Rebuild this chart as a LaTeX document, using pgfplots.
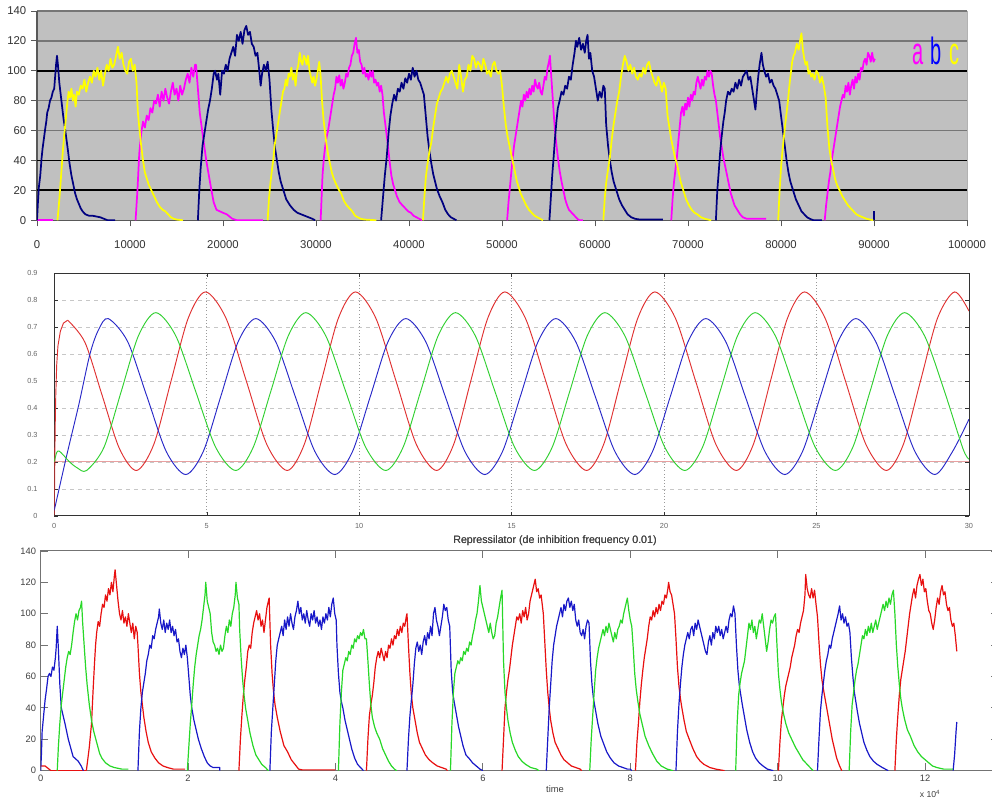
\documentclass[border=0pt]{standalone}
\usepackage{fontspec}
\setmainfont{Liberation Sans}
\usepackage{graphicx}
\usepackage{pgfplots}
\pgfplotsset{compat=1.18}

\definecolor{xlgray}{HTML}{C0C0C0}
\definecolor{xlgrid}{HTML}{767676}
\definecolor{cnavy}{HTML}{000080}
\definecolor{cmag}{HTML}{FF00FF}
\definecolor{cyel}{HTML}{FFFF00}
\definecolor{mred}{HTML}{E03030}
\definecolor{mblue}{HTML}{2828C8}
\definecolor{mgreen}{HTML}{30D030}
\definecolor{mpink}{HTML}{E8A0A0}
\definecolor{bred}{HTML}{E81010}
\definecolor{bblue}{HTML}{1818C8}
\definecolor{bgreen}{HTML}{28D828}
\definecolor{txt}{HTML}{333333}

\pgfplotsset{
  tA/.style={cmag, line width=1.3pt, line join=round},
  tB/.style={cnavy, line width=1.3pt, line join=round},
  tC/.style={cyel, line width=1.3pt, line join=round},
  bR/.style={bred, line width=0.9pt, line join=round},
  bB/.style={bblue, line width=0.9pt, line join=round},
  bG/.style={bgreen, line width=0.9pt, line join=round},
}

\begin{document}
\begin{tikzpicture}
\path[use as bounding box] (0,0) rectangle (744pt,-604.5pt);
\fill[white] (0,0) rectangle (744pt,-604.5pt);

% ---------------- top panel (Excel style) ----------------
\begin{axis}[
  at={(27.75pt,-165.2pt)}, anchor=south west,
  scale only axis, width=697.5pt, height=157pt,
  xmin=0, xmax=100, ymin=0, ymax=140,
  axis background/.style={fill=xlgray, draw=black!30},
  axis x line*=bottom, axis y line*=left,
  axis line style={-, draw=black!65, line width=0.8pt},
  xtick={0,10,...,100},
  xticklabels={0,10000,20000,30000,40000,50000,60000,70000,80000,90000,100000},
  ytick={0,20,...,140},
  tick align=outside, major tick length=4.5pt, tick style={black!65, line width=0.6pt},
  ymajorgrids, grid style={xlgrid, line width=1.1pt},
  extra y ticks={20,40,100}, extra y tick labels={},
  extra y tick style={grid style={black, line width=1.3pt}, major tick length=0pt},
  ticklabel style={font=\fontsize{8.5}{10}\selectfont, text=txt},
  xticklabel style={yshift=-7pt},
  /pgf/number format/assume math mode=true,
]
% a
\addplot[tA] coordinates {(0,0)(1.7,0)};
\addplot[tA] coordinates {(10.6,0)(10.8,20)(11.0,45)(11.2,58)(11.4,66)(11.6,62)(11.8,70)(12.0,67)(12.2,75)(12.4,72)(12.6,80)(12.8,78)(13.0,84)(13.2,76)(13.4,86)(13.6,80)(13.8,88)(14.0,82)(14.2,78)(14.4,86)(14.6,92)(14.8,84)(15.0,88)(15.2,80)(15.4,90)(15.6,84)(15.8,88)(16.0,94)(16.2,98)(16.4,92)(16.6,102)(16.8,96)(17.0,104)(17.1,104)(17.3,88)(17.5,72)(17.8,58)(18.2,40)(18.7,22)(19.0,12)(19.3,7)(20.0,5)(20.4,4)(21,1)(21.5,0)(24.3,0)};
\addplot[tA] coordinates {(30.5,0)(30.6,15)(30.7,30)(30.85,42)(31.0,50)(31.15,56)(31.3,60)(31.45,66)(31.6,72)(31.75,78)(31.9,84)(32.05,88)(32.2,96)(32.35,92)(32.5,97)(32.65,90)(32.8,94)(32.95,88)(33.1,92)(33.25,98)(33.4,96)(33.55,102)(33.7,104)(33.85,110)(34.0,112)(34.15,118)(34.3,122)(34.45,112)(34.6,114)(34.75,106)(34.9,104)(35.05,98)(35.2,102)(35.35,96)(35.5,98)(35.65,94)(35.8,100)(35.95,96)(36.1,100)(36.25,92)(36.4,94)(36.55,90)(36.7,92)(36.85,86)(37.0,90)(37.15,84)(37.3,72)(37.5,62)(37.7,52)(37.9,40)(38.1,30)(38.3,24)(38.5,20)(38.7,16)(39.0,12)(39.3,10)(39.6,8)(39.9,6)(40.2,5)(40.5,3)(40.8,2)(41.1,1)(41.4,0)};
\addplot[tA] coordinates {(50.55,0)(50.7,12)(50.85,22)(51.0,32)(51.15,42)(51.3,50)(51.45,56)(51.6,62)(51.75,68)(51.9,74)(52.05,80)(52.2,76)(52.35,84)(52.5,80)(52.65,86)(52.8,82)(52.95,88)(53.1,84)(53.25,90)(53.4,86)(53.55,94)(53.7,90)(53.85,88)(54.0,92)(54.15,86)(54.3,84)(54.45,90)(54.6,96)(54.75,94)(54.9,102)(55.05,106)(55.15,110)(55.3,96)(55.45,82)(55.6,68)(55.75,56)(55.9,48)(56.05,40)(56.2,33)(56.4,26)(56.6,20)(56.8,14)(57.0,10)(57.2,7)(57.5,5)(57.8,3)(58.1,1)(58.3,0)(58.7,0)};
\addplot[tA] coordinates {(68.2,0)(68.35,15)(68.5,26)(68.65,34)(68.8,42)(68.95,52)(69.1,62)(69.25,72)(69.4,76)(69.55,70)(69.7,78)(69.85,74)(70.0,82)(70.15,76)(70.3,84)(70.45,80)(70.6,86)(70.75,84)(70.9,92)(71.05,96)(71.2,92)(71.35,88)(71.5,94)(71.65,90)(71.8,96)(71.95,94)(72.1,100)(72.25,96)(72.4,100)(72.55,98)(72.7,90)(72.85,84)(73.0,80)(73.15,72)(73.3,64)(73.45,56)(73.6,50)(73.8,42)(74.0,36)(74.2,30)(74.4,24)(74.6,18)(74.8,14)(75.0,10)(75.3,7)(75.6,4)(75.9,2)(76.3,1)(77.0,1)(78.4,1)};
\addplot[tA] coordinates {(84.7,0)(84.85,10)(85.0,18)(85.15,26)(85.3,32)(85.45,40)(85.6,46)(85.75,52)(85.9,58)(86.05,64)(86.2,70)(86.35,76)(86.5,80)(86.65,84)(86.8,82)(86.95,90)(87.1,86)(87.25,92)(87.4,84)(87.55,90)(87.7,94)(87.85,88)(88.0,96)(88.15,92)(88.3,98)(88.45,94)(88.6,102)(88.75,100)(88.9,106)(89.05,108)(89.2,104)(89.35,112)(89.5,110)(89.65,106)(89.8,112)(89.95,106)(90.1,108)};
% b
\addplot[tB] coordinates {(0,0)(0.1,12)(0.2,22)(0.35,30)(0.5,42)(0.6,48)(0.75,55)(0.9,62)(1.0,66)(1.1,72)(1.25,75)(1.4,80)(1.55,82)(1.7,86)(1.85,88)(1.95,96)(2.05,104)(2.15,110)(2.25,104)(2.4,92)(2.55,84)(2.7,76)(2.85,68)(3.0,62)(3.15,55)(3.3,48)(3.5,38)(3.7,30)(3.9,24)(4.1,18)(4.3,14)(4.5,11)(4.7,8)(4.9,6)(5.2,4)(5.6,3)(6.0,3)(6.4,2.5)(6.8,2)(7.2,1)(7.6,0)(8.4,0)};
\addplot[tB] coordinates {(17.3,0)(17.45,20)(17.6,35)(17.8,50)(18.0,58)(18.2,66)(18.4,74)(18.6,80)(18.8,88)(19.0,98)(19.15,100)(19.35,94)(19.5,98)(19.7,84)(19.9,100)(20.1,98)(20.3,104)(20.5,100)(20.7,108)(20.9,112)(21.1,116)(21.3,110)(21.5,124)(21.7,120)(21.9,126)(22.1,118)(22.3,127)(22.5,130)(22.7,124)(22.9,126)(23.1,118)(23.3,116)(23.5,110)(23.7,112)(23.9,100)(24.05,90)(24.2,98)(24.4,104)(24.6,100)(24.8,106)(25.0,94)(25.2,74)(25.4,60)(25.6,48)(25.8,40)(26.0,32)(26.2,26)(26.5,20)(26.8,14)(27.2,10)(27.6,7)(28.0,5)(28.4,4)(28.8,3)(29.2,2)(29.6,1)(29.9,0)};
\addplot[tB] coordinates {(37.0,0)(37.2,15)(37.4,30)(37.6,42)(37.8,58)(38.0,70)(38.2,78)(38.4,84)(38.6,80)(38.8,88)(39.0,86)(39.2,92)(39.4,88)(39.6,95)(39.8,92)(40.0,98)(40.2,94)(40.4,102)(40.6,96)(40.8,100)(41.0,94)(41.2,92)(41.4,88)(41.6,84)(41.8,70)(42.0,56)(42.2,46)(42.4,38)(42.6,31)(42.8,26)(43.0,21)(43.3,16)(43.6,12)(43.9,7)(44.2,4)(44.5,2)(44.8,1)(45.1,0)};
\addplot[tB] coordinates {(55.1,0)(55.25,15)(55.4,30)(55.55,42)(55.7,55)(55.85,66)(56.0,75)(56.2,80)(56.4,86)(56.6,84)(56.8,90)(57.0,88)(57.2,96)(57.4,94)(57.6,104)(57.8,112)(57.95,120)(58.1,116)(58.3,122)(58.5,114)(58.7,118)(58.9,112)(59.05,120)(59.2,124)(59.35,108)(59.5,112)(59.7,100)(59.9,96)(60.1,88)(60.3,80)(60.5,86)(60.7,82)(60.9,90)(61.05,88)(61.2,64)(61.4,50)(61.6,40)(61.8,32)(62.0,26)(62.3,20)(62.6,14)(62.9,10)(63.2,7)(63.5,4)(63.9,2)(64.3,1)(64.8,0.5)(67.3,0.5)};
\addplot[tB] coordinates {(73.0,0)(73.15,20)(73.3,32)(73.45,45)(73.6,55)(73.8,66)(73.95,72)(74.1,80)(74.3,86)(74.5,84)(74.7,88)(74.9,86)(75.1,92)(75.3,88)(75.5,94)(75.7,90)(75.9,96)(76.1,98)(76.3,100)(76.5,94)(76.7,96)(76.9,88)(77.1,80)(77.25,74)(77.4,86)(77.55,96)(77.7,104)(77.9,112)(78.05,104)(78.2,100)(78.4,96)(78.6,98)(78.8,92)(79.0,94)(79.2,90)(79.4,88)(79.6,84)(79.8,80)(80.0,70)(80.2,60)(80.4,50)(80.6,40)(80.8,32)(81.0,26)(81.3,20)(81.6,14)(81.9,10)(82.2,6)(82.5,4)(82.8,2)(83.1,1)(83.5,0)(84.4,0)};
\addplot[tB] coordinates {(90.0,0)(90.0,6)};
% c
\addplot[tC] coordinates {(2.2,0)(2.35,10)(2.5,22)(2.65,35)(2.8,48)(2.95,58)(3.1,68)(3.25,78)(3.4,86)(3.55,82)(3.7,88)(3.85,80)(4.0,84)(4.15,76)(4.3,86)(4.5,84)(4.7,90)(4.9,88)(5.1,94)(5.3,86)(5.5,92)(5.7,96)(5.9,92)(6.1,100)(6.3,96)(6.5,102)(6.7,94)(6.9,100)(7.1,90)(7.3,98)(7.5,104)(7.7,100)(7.9,108)(8.1,102)(8.3,104)(8.5,110)(8.7,116)(8.9,108)(9.1,112)(9.3,104)(9.5,100)(9.7,98)(9.9,106)(10.1,108)(10.3,100)(10.5,104)(10.7,92)(10.85,72)(11.0,62)(11.2,50)(11.4,40)(11.6,32)(11.8,28)(12.0,24)(12.3,20)(12.6,16)(12.9,12)(13.2,9)(13.5,7)(13.8,6)(14.1,4)(14.4,2)(14.7,1)(15.0,0.5)(15.7,0)};
\addplot[tC] coordinates {(24.8,0)(24.95,15)(25.1,25)(25.25,33)(25.4,40)(25.55,50)(25.7,56)(25.85,62)(26.0,68)(26.15,74)(26.3,80)(26.45,86)(26.6,88)(26.75,94)(26.9,90)(27.05,98)(27.2,96)(27.35,102)(27.5,94)(27.65,98)(27.8,90)(27.95,100)(28.1,104)(28.25,112)(28.4,106)(28.55,104)(28.7,110)(28.85,108)(29.0,104)(29.15,110)(29.3,100)(29.45,96)(29.6,92)(29.75,96)(29.9,90)(30.05,94)(30.2,100)(30.35,106)(30.5,96)(30.65,80)(30.8,68)(30.95,60)(31.1,52)(31.3,44)(31.5,38)(31.7,32)(31.9,28)(32.1,25)(32.4,21)(32.7,18)(33.0,13)(33.3,10)(33.6,8)(33.9,6)(34.2,3)(34.5,2)(34.8,1)(35.2,0.5)(36.5,0)};
\addplot[tC] coordinates {(41.5,0)(41.65,15)(41.8,28)(41.95,36)(42.1,42)(42.25,48)(42.4,52)(42.6,62)(42.8,70)(43.0,78)(43.2,82)(43.4,86)(43.6,88)(43.8,92)(44.0,96)(44.2,92)(44.4,98)(44.6,100)(44.8,96)(45.0,92)(45.2,88)(45.4,104)(45.6,96)(45.8,86)(46.0,94)(46.2,96)(46.4,104)(46.6,100)(46.8,110)(47.0,108)(47.2,102)(47.4,106)(47.6,104)(47.8,100)(48.0,108)(48.2,104)(48.4,98)(48.6,100)(48.8,96)(49.0,104)(49.2,106)(49.4,100)(49.6,98)(49.8,100)(50.0,90)(50.2,76)(50.4,64)(50.6,56)(50.8,50)(51.0,44)(51.2,38)(51.4,32)(51.6,26)(51.8,22)(52.0,18)(52.3,14)(52.6,10)(52.9,7)(53.2,5)(53.5,3)(53.8,2)(54.1,1)(54.4,0)};
\addplot[tC] coordinates {(60.9,0)(61.05,15)(61.2,25)(61.4,34)(61.6,42)(61.8,54)(62.0,64)(62.2,72)(62.4,80)(62.6,86)(62.8,96)(63.0,104)(63.2,110)(63.4,106)(63.6,100)(63.8,104)(64.0,98)(64.2,102)(64.4,96)(64.6,94)(64.8,98)(65.0,96)(65.2,102)(65.4,98)(65.6,104)(65.8,106)(66.0,100)(66.2,96)(66.4,92)(66.6,90)(66.8,96)(67.0,92)(67.2,86)(67.4,92)(67.6,88)(67.8,70)(68.0,62)(68.2,54)(68.4,48)(68.6,42)(68.8,38)(69.0,32)(69.2,26)(69.5,20)(69.8,14)(70.1,10)(70.4,7)(70.7,5)(71.0,4)(71.4,2)(71.8,1)(72.5,0)};
\addplot[tC] coordinates {(79.7,0)(79.85,20)(80.0,35)(80.15,46)(80.3,55)(80.45,64)(80.6,72)(80.75,80)(80.9,90)(81.05,98)(81.2,106)(81.35,110)(81.5,112)(81.7,118)(81.9,114)(82.05,120)(82.2,125)(82.35,114)(82.5,108)(82.65,104)(82.8,106)(82.95,98)(83.1,100)(83.25,96)(83.4,98)(83.6,94)(83.8,100)(84.0,98)(84.2,92)(84.4,96)(84.6,90)(84.8,82)(85.0,62)(85.2,48)(85.4,40)(85.6,34)(85.8,28)(86.0,24)(86.3,20)(86.6,16)(86.9,13)(87.2,10)(87.5,8)(87.8,6)(88.1,4)(88.4,3)(88.8,2)(89.2,1)(89.9,0)};
\end{axis}

\node[anchor=base, text=cmag] at (688.5pt,-48.75pt) {\scalebox{1}[1.9]{\fontsize{15}{15}\selectfont a}};
\node[anchor=base, text=blue] at (702pt,-48.75pt) {\scalebox{1}[1.9]{\fontsize{15}{15}\selectfont b}};
\node[anchor=base, text=cyel] at (715.5pt,-48.75pt) {\scalebox{1}[1.9]{\fontsize{15}{15}\selectfont c}};

% ---------------- middle panel (deterministic repressilator) ----------------
\begin{axis}[
  at={(40.7pt,-386.8pt)}, anchor=south west,
  scale only axis, width=686pt, height=181.8pt,
  xmin=0, xmax=30, ymin=0, ymax=0.9,
  axis line style={black!80, line width=0.6pt},
  xtick={0,5,10,15,20,25,30},
  ytick={0,0.1,0.2,0.3,0.4,0.5,0.6,0.7,0.8,0.9},
  tick align=inside, major tick length=3pt, tick style={black!80},
  xmajorgrids, ymajorgrids,
  x grid style={black!40, dotted, line width=0.5pt},
  y grid style={black!22, dashed, line width=0.4pt},
  ticklabel style={font=\fontsize{5.5}{6}\selectfont, text=black!60},
  yticklabel style={xshift=-9pt},
  xticklabel style={yshift=-2pt},
  /pgf/number format/assume math mode=true,
]
\addplot[mpink, line width=0.6pt] coordinates {(0,0.2)(30,0.2)};
\addplot[mred, line width=0.7pt] coordinates {(0,0)(0.03,0.33)(0.05,0.45)(0.08,0.56)(0.12,0.63)(0.2,0.685)(0.3,0.715)(0.44,0.726)};
\addplot[mred, line width=0.7pt, smooth] coordinates {
(0.44,0.726)(1.005,0.644)(1.57,0.447)(2.135,0.25)(2.70,0.168)
(3.265,0.265)(3.83,0.50)(4.395,0.734)(4.96,0.831)
(5.63,0.734)(6.30,0.50)(6.97,0.265)(7.64,0.168)
(8.20,0.265)(8.76,0.50)(9.32,0.734)(9.88,0.831)
(10.545,0.734)(11.21,0.50)(11.875,0.265)(12.54,0.168)
(13.10,0.265)(13.66,0.50)(14.22,0.734)(14.78,0.831)
(15.45,0.734)(16.12,0.50)(16.79,0.265)(17.46,0.168)
(18.02,0.265)(18.58,0.50)(19.14,0.734)(19.70,0.831)
(20.37,0.734)(21.035,0.50)(21.70,0.265)(22.37,0.168)
(22.93,0.265)(23.49,0.50)(24.05,0.734)(24.61,0.831)
(25.28,0.734)(25.95,0.50)(26.62,0.265)(27.29,0.168)
(27.85,0.265)(28.41,0.50)(28.97,0.734)(29.53,0.831)(30,0.76)};
\addplot[mblue, line width=0.7pt, smooth] coordinates {
(0,0.02)(0.4,0.22)(0.8,0.41)(1.17,0.6)(1.45,0.69)(1.77,0.732)
(2.405,0.647)(3.04,0.4425)(3.675,0.238)(4.31,0.153)
(4.885,0.238)(5.46,0.4425)(6.035,0.647)(6.61,0.732)
(7.26,0.647)(7.905,0.4425)(8.55,0.238)(9.20,0.153)
(9.78,0.238)(10.365,0.4425)(10.95,0.647)(11.53,0.732)
(12.18,0.647)(12.825,0.4425)(13.47,0.238)(14.12,0.153)
(14.70,0.238)(15.285,0.4425)(15.87,0.647)(16.45,0.732)
(17.10,0.647)(17.745,0.4425)(18.39,0.238)(19.04,0.153)
(19.62,0.238)(20.205,0.4425)(20.79,0.647)(21.37,0.732)
(22.02,0.647)(22.665,0.4425)(23.31,0.238)(23.96,0.153)
(24.54,0.238)(25.125,0.4425)(25.71,0.647)(26.29,0.732)
(26.94,0.647)(27.585,0.4425)(28.23,0.238)(28.88,0.153)
(29.46,0.238)(30,0.358)};
\addplot[mgreen, line width=0.7pt, smooth] coordinates {
(0,0.20)(0.08,0.235)(0.16,0.24)(0.3,0.225)(0.5,0.20)(0.75,0.178)(1.06,0.168)
(1.63,0.254)(2.195,0.461)(2.76,0.668)(3.33,0.754)
(3.985,0.668)(4.64,0.461)(5.295,0.254)(5.95,0.168)
(6.525,0.254)(7.10,0.461)(7.675,0.668)(8.25,0.754)
(8.905,0.668)(9.56,0.461)(10.215,0.254)(10.87,0.168)
(11.44,0.254)(12.015,0.461)(12.59,0.668)(13.16,0.754)
(13.81,0.668)(14.455,0.461)(15.10,0.254)(15.75,0.168)
(16.33,0.254)(16.905,0.461)(17.48,0.668)(18.06,0.754)
(18.715,0.668)(19.37,0.461)(20.025,0.254)(20.68,0.168)
(21.26,0.254)(21.835,0.461)(22.41,0.668)(22.99,0.754)
(23.65,0.668)(24.305,0.461)(24.96,0.254)(25.62,0.168)
(26.19,0.254)(26.755,0.461)(27.32,0.668)(27.89,0.754)
(28.545,0.668)(29.2,0.461)(29.8,0.25)(30,0.21)};
\end{axis}

\node[text=black!75, font=\fontsize{8}{9}\selectfont] at (416.25pt,-405.75pt) {Repressilator (de inhibition frequency 0.01)};

% ---------------- bottom panel (stochastic repressilator) ----------------
\begin{axis}[
  at={(30.5pt,-578pt)}, anchor=south west,
  scale only axis, width=718.6pt, height=164.8pt,
  xmin=0, xmax=13, ymin=0, ymax=140,
  axis line style={black!55, line width=0.7pt},
  xtick={0,2,4,6,8,10,12}, ytick={0,20,...,140},
  tick align=inside, major tick length=5.5pt, tick style={black!55, line width=0.6pt},
  ticklabel style={font=\fontsize{7}{8}\selectfont, text=black!75},
  /pgf/number format/assume math mode=true,
]
% red
\addplot[bR] coordinates {(0,3)(0.06,3)(0.1,1.5)(0.14,0)(0.62,0)};
\addplot[bR] coordinates {(0.62,0)(0.66,15)(0.69,30)(0.71,50)(0.73,68)(0.745,80)(0.76,88)(0.78,95)(0.80,92)(0.82,100)(0.84,106)(0.86,104)(0.88,112)(0.90,108)(0.92,116)(0.94,112)(0.96,120)(0.98,114)(1.0,124)(1.01,128)(1.03,118)(1.05,108)(1.07,100)(1.09,96)(1.11,102)(1.13,94)(1.15,98)(1.17,92)(1.19,100)(1.21,94)(1.23,88)(1.25,94)(1.27,84)(1.29,92)(1.31,88)(1.32,80)(1.34,62)(1.36,50)(1.38,42)(1.40,34)(1.43,25)(1.46,18)(1.50,12)(1.55,8)(1.60,5)(1.66,3)(1.72,2)(1.80,1)(1.96,1)};
\addplot[bR] coordinates {(2.69,0)(2.71,20)(2.73,35)(2.75,48)(2.77,58)(2.79,66)(2.81,76)(2.83,80)(2.85,78)(2.87,88)(2.89,94)(2.91,98)(2.93,102)(2.95,96)(2.97,100)(2.99,92)(3.01,96)(3.03,88)(3.05,96)(3.07,104)(3.09,108)(3.10,110)(3.12,80)(3.14,62)(3.16,50)(3.18,42)(3.21,34)(3.25,25)(3.30,16)(3.35,12)(3.40,7)(3.45,4)(3.50,1)(3.55,0.5)(4.0,0.5)};
\addplot[bR] coordinates {(4.42,0)(4.44,20)(4.46,35)(4.48,42)(4.50,48)(4.52,56)(4.54,66)(4.56,72)(4.58,76)(4.60,72)(4.62,78)(4.64,74)(4.66,70)(4.68,76)(4.70,72)(4.72,80)(4.74,78)(4.76,84)(4.78,80)(4.80,86)(4.82,84)(4.84,90)(4.86,86)(4.88,92)(4.90,88)(4.92,94)(4.94,92)(4.96,98)(4.97,100)(4.99,80)(5.01,62)(5.03,48)(5.05,40)(5.08,32)(5.11,24)(5.14,18)(5.18,14)(5.22,10)(5.27,7)(5.32,5)(5.38,3)(5.44,2)(5.50,1)(5.52,0)};
\addplot[bR] coordinates {(6.26,0)(6.28,20)(6.30,40)(6.32,50)(6.34,58)(6.36,64)(6.38,72)(6.40,80)(6.42,86)(6.44,92)(6.46,98)(6.48,96)(6.50,100)(6.52,94)(6.54,102)(6.56,98)(6.58,104)(6.60,96)(6.62,100)(6.64,108)(6.66,112)(6.68,116)(6.70,120)(6.71,122)(6.73,114)(6.75,116)(6.77,110)(6.79,112)(6.81,104)(6.82,100)(6.84,82)(6.86,64)(6.88,50)(6.90,40)(6.92,32)(6.95,24)(6.98,18)(7.02,14)(7.06,10)(7.10,7)(7.15,5)(7.20,3)(7.26,2)(7.32,1)(7.34,0)};
\addplot[bR] coordinates {(8.07,0)(8.09,18)(8.11,30)(8.13,44)(8.15,55)(8.17,64)(8.19,72)(8.21,78)(8.23,84)(8.25,92)(8.27,98)(8.29,96)(8.31,102)(8.33,98)(8.35,104)(8.37,100)(8.39,106)(8.41,102)(8.43,108)(8.45,106)(8.47,112)(8.49,110)(8.51,116)(8.52,120)(8.54,114)(8.56,112)(8.58,106)(8.60,100)(8.62,84)(8.64,66)(8.66,54)(8.68,46)(8.70,40)(8.73,32)(8.76,25)(8.80,20)(8.85,14)(8.90,9)(8.95,6)(9.00,4)(9.08,2)(9.16,1)(9.28,0)};
\addplot[bR] coordinates {(10.01,0)(10.03,18)(10.05,32)(10.07,40)(10.09,48)(10.11,54)(10.13,58)(10.15,62)(10.17,66)(10.19,72)(10.21,76)(10.23,80)(10.25,86)(10.27,90)(10.29,88)(10.31,94)(10.33,98)(10.35,102)(10.37,112)(10.38,125)(10.40,116)(10.42,112)(10.44,110)(10.46,116)(10.48,110)(10.50,115)(10.52,106)(10.54,98)(10.56,82)(10.58,68)(10.60,58)(10.62,52)(10.65,44)(10.68,36)(10.71,28)(10.74,20)(10.77,14)(10.80,8)(10.84,3)(10.87,0)};
\addplot[bR] coordinates {(11.59,0)(11.61,20)(11.63,35)(11.65,48)(11.67,58)(11.69,64)(11.71,70)(11.73,76)(11.75,84)(11.77,92)(11.79,100)(11.81,106)(11.83,112)(11.85,116)(11.87,110)(11.89,118)(11.91,122)(11.93,125)(11.95,118)(11.97,122)(11.99,114)(12.01,116)(12.03,108)(12.05,102)(12.07,100)(12.09,94)(12.11,90)(12.13,96)(12.15,104)(12.17,110)(12.19,106)(12.21,114)(12.23,118)(12.25,112)(12.27,114)(12.29,106)(12.31,102)(12.33,104)(12.35,96)(12.37,92)(12.39,94)(12.41,86)(12.43,76)};
% blue
\addplot[bB] coordinates {(0,0)(0.01,10)(0.02,25)(0.04,35)(0.06,45)(0.08,52)(0.10,60)(0.12,62)(0.14,60)(0.16,66)(0.18,64)(0.20,72)(0.21,78)(0.225,92)(0.24,78)(0.26,55)(0.28,40)(0.33,30)(0.375,20)(0.44,9)(0.51,6)(0.55,3)(0.58,0)};
\addplot[bB] coordinates {(1.32,0)(1.34,25)(1.36,40)(1.38,50)(1.40,56)(1.42,62)(1.44,70)(1.46,74)(1.48,80)(1.50,78)(1.52,86)(1.54,84)(1.56,90)(1.58,94)(1.60,98)(1.61,103)(1.63,94)(1.65,90)(1.67,96)(1.69,88)(1.71,94)(1.73,90)(1.75,96)(1.77,88)(1.79,92)(1.81,86)(1.83,90)(1.85,82)(1.87,84)(1.89,76)(1.91,72)(1.93,78)(1.95,74)(1.97,80)(1.99,72)(2.01,60)(2.03,48)(2.05,40)(2.08,32)(2.11,26)(2.14,20)(2.18,14)(2.22,9)(2.26,5)(2.30,3)(2.34,2)(2.43,2)(2.43,0)};
\addplot[bB] coordinates {(3.11,0)(3.13,25)(3.15,40)(3.17,55)(3.19,70)(3.21,80)(3.23,84)(3.25,88)(3.27,92)(3.29,86)(3.31,96)(3.33,90)(3.35,98)(3.37,92)(3.39,100)(3.41,94)(3.43,90)(3.45,98)(3.47,102)(3.49,108)(3.51,100)(3.53,104)(3.55,96)(3.57,100)(3.59,94)(3.61,102)(3.63,96)(3.65,92)(3.67,100)(3.69,96)(3.71,102)(3.73,94)(3.75,98)(3.77,92)(3.79,96)(3.81,90)(3.83,98)(3.85,94)(3.87,100)(3.89,96)(3.91,104)(3.93,98)(3.95,106)(3.97,110)(3.99,100)(4.01,96)(4.02,80)(4.04,62)(4.06,50)(4.08,44)(4.10,40)(4.13,32)(4.16,26)(4.19,20)(4.22,14)(4.26,8)(4.30,4)(4.34,2)(4.38,0)};
\addplot[bB] coordinates {(4.97,0)(4.99,20)(5.01,35)(5.03,45)(5.05,55)(5.07,68)(5.09,78)(5.11,82)(5.13,76)(5.15,80)(5.17,74)(5.19,82)(5.21,86)(5.23,80)(5.25,88)(5.27,84)(5.29,92)(5.31,86)(5.33,100)(5.35,104)(5.37,96)(5.39,92)(5.41,86)(5.43,92)(5.45,98)(5.47,106)(5.49,102)(5.51,104)(5.53,96)(5.55,92)(5.57,64)(5.59,50)(5.61,44)(5.64,36)(5.67,28)(5.70,22)(5.73,16)(5.77,10)(5.81,8)(5.86,5)(5.91,3)(5.96,1)(6.0,0)};
\addplot[bB] coordinates {(6.86,0)(6.88,20)(6.90,40)(6.92,55)(6.94,70)(6.96,80)(6.98,86)(7.00,92)(7.02,96)(7.04,100)(7.06,104)(7.08,98)(7.10,106)(7.12,102)(7.14,108)(7.16,110)(7.18,104)(7.20,108)(7.22,102)(7.24,106)(7.26,96)(7.28,92)(7.30,96)(7.32,88)(7.34,86)(7.36,90)(7.38,84)(7.40,92)(7.42,96)(7.44,94)(7.46,70)(7.48,55)(7.50,46)(7.53,38)(7.56,30)(7.60,22)(7.64,17)(7.68,12)(7.73,8)(7.78,5)(7.84,3)(7.90,2)(7.96,1)(8.0,1)(8.02,0)};
\addplot[bB] coordinates {(8.62,0)(8.64,25)(8.66,42)(8.68,55)(8.70,66)(8.72,74)(8.74,80)(8.76,84)(8.78,88)(8.80,84)(8.82,90)(8.84,92)(8.86,86)(8.88,94)(8.90,90)(8.92,96)(8.94,92)(8.96,88)(8.98,84)(9.00,80)(9.02,76)(9.04,74)(9.06,82)(9.08,86)(9.10,80)(9.12,88)(9.14,84)(9.16,92)(9.18,88)(9.20,92)(9.22,86)(9.24,90)(9.26,84)(9.28,88)(9.30,92)(9.32,88)(9.34,96)(9.36,100)(9.38,98)(9.40,105)(9.42,100)(9.44,80)(9.46,64)(9.48,54)(9.50,48)(9.52,42)(9.55,34)(9.58,26)(9.62,18)(9.66,12)(9.70,8)(9.75,5)(9.80,3)(9.86,1)(9.94,0)};
\addplot[bB] coordinates {(10.54,0)(10.56,20)(10.58,38)(10.60,48)(10.62,56)(10.64,64)(10.66,70)(10.68,74)(10.70,80)(10.72,78)(10.74,84)(10.76,88)(10.78,92)(10.80,96)(10.82,100)(10.84,105)(10.86,96)(10.88,100)(10.90,94)(10.92,98)(10.94,92)(10.96,94)(10.98,88)(11.00,72)(11.02,60)(11.04,50)(11.06,44)(11.08,38)(11.11,30)(11.14,24)(11.17,18)(11.21,13)(11.25,9)(11.30,6)(11.35,4)(11.42,2)(11.50,0)};
\addplot[bB] coordinates {(12.38,0)(12.40,10)(12.42,25)(12.43,31)};
% green
\addplot[bG] coordinates {(0.225,0)(0.24,15)(0.26,30)(0.28,42)(0.30,50)(0.32,58)(0.34,66)(0.36,72)(0.38,76)(0.40,74)(0.42,80)(0.44,88)(0.46,95)(0.48,100)(0.50,96)(0.52,102)(0.54,104)(0.555,108)(0.57,94)(0.59,80)(0.61,66)(0.63,55)(0.66,42)(0.69,32)(0.72,25)(0.76,18)(0.80,11)(0.83,8)(0.88,5)(0.94,3)(1.0,2)(1.1,1)(1.19,1)};
\addplot[bG] coordinates {(1.99,0)(2.01,15)(2.03,30)(2.05,42)(2.07,55)(2.09,66)(2.11,74)(2.13,80)(2.15,86)(2.17,90)(2.19,96)(2.21,104)(2.23,112)(2.24,120)(2.26,108)(2.28,104)(2.30,100)(2.32,88)(2.34,82)(2.36,80)(2.38,76)(2.40,78)(2.42,74)(2.44,80)(2.46,76)(2.48,78)(2.50,86)(2.52,92)(2.54,88)(2.56,96)(2.58,92)(2.60,100)(2.62,104)(2.64,112)(2.65,120)(2.67,110)(2.69,106)(2.70,90)(2.72,72)(2.74,58)(2.76,48)(2.78,40)(2.81,32)(2.84,24)(2.88,16)(2.92,10)(2.96,7)(3.00,4)(3.05,2)(3.09,0)};
\addplot[bG] coordinates {(4.04,0)(4.06,30)(4.08,50)(4.10,64)(4.12,68)(4.14,72)(4.16,70)(4.18,76)(4.20,74)(4.22,80)(4.24,78)(4.26,84)(4.28,82)(4.30,86)(4.32,84)(4.34,88)(4.36,86)(4.38,90)(4.40,84)(4.42,84)(4.44,70)(4.46,55)(4.48,42)(4.50,34)(4.53,28)(4.56,24)(4.60,20)(4.64,14)(4.68,10)(4.72,6)(4.76,3)(4.80,1)(4.83,0)};
\addplot[bG] coordinates {(5.56,0)(5.58,30)(5.60,50)(5.62,62)(5.64,66)(5.66,70)(5.68,68)(5.70,72)(5.72,70)(5.74,76)(5.76,74)(5.78,78)(5.80,76)(5.82,82)(5.84,80)(5.86,86)(5.88,90)(5.90,96)(5.92,100)(5.94,108)(5.96,118)(5.98,108)(6.00,104)(6.02,100)(6.04,96)(6.06,92)(6.08,88)(6.10,94)(6.12,88)(6.14,84)(6.16,86)(6.18,94)(6.20,98)(6.22,104)(6.24,110)(6.26,115)(6.28,70)(6.30,50)(6.32,40)(6.34,32)(6.37,24)(6.40,18)(6.44,13)(6.48,9)(6.53,6)(6.58,4)(6.65,2)(6.73,1)(6.76,0)};
\addplot[bG] coordinates {(7.45,0)(7.47,20)(7.49,35)(7.51,50)(7.53,64)(7.55,72)(7.57,78)(7.59,82)(7.61,86)(7.63,90)(7.65,86)(7.67,92)(7.69,88)(7.71,94)(7.73,90)(7.75,86)(7.77,82)(7.79,88)(7.81,84)(7.83,90)(7.85,92)(7.87,96)(7.89,94)(7.91,100)(7.93,104)(7.95,108)(7.96,110)(7.98,102)(8.00,96)(8.02,92)(8.04,78)(8.06,62)(8.08,52)(8.10,45)(8.13,36)(8.16,30)(8.20,22)(8.25,16)(8.30,11)(8.36,6)(8.42,3)(8.50,1)(8.58,0)};
\addplot[bG] coordinates {(9.43,0)(9.45,30)(9.47,48)(9.49,56)(9.51,62)(9.53,66)(9.55,70)(9.57,78)(9.59,86)(9.61,94)(9.63,90)(9.65,96)(9.67,88)(9.69,92)(9.71,84)(9.73,90)(9.75,96)(9.77,94)(9.79,100)(9.81,92)(9.83,84)(9.85,76)(9.87,82)(9.89,90)(9.91,96)(9.93,94)(9.95,98)(9.97,100)(9.99,80)(10.01,62)(10.03,52)(10.05,44)(10.08,36)(10.11,30)(10.15,24)(10.19,20)(10.24,15)(10.29,11)(10.34,7)(10.40,4)(10.46,1)(10.48,0)};
\addplot[bG] coordinates {(10.97,0)(10.99,25)(11.01,42)(11.03,50)(11.05,58)(11.07,64)(11.09,68)(11.11,74)(11.13,80)(11.15,86)(11.17,84)(11.19,90)(11.21,86)(11.23,92)(11.25,88)(11.27,94)(11.29,88)(11.31,92)(11.33,96)(11.35,90)(11.37,94)(11.39,98)(11.41,102)(11.43,106)(11.45,102)(11.47,108)(11.49,104)(11.51,110)(11.53,106)(11.55,112)(11.57,115)(11.59,100)(11.61,80)(11.63,66)(11.65,55)(11.67,46)(11.69,40)(11.72,33)(11.76,26)(11.80,22)(11.85,16)(11.90,12)(11.95,9)(12.00,7)(12.05,5)(12.10,3)(12.16,2)(12.25,1)(12.38,1)};
\end{axis}

\node[text=black!75, font=\fontsize{8}{9}\selectfont] at (416.25pt,-405.75pt) {Repressilator (de inhibition frequency 0.01)};
\node[text=black!75, font=\fontsize{7}{8}\selectfont] at (416.25pt,-591.75pt) {time};
\node[text=black!75, font=\fontsize{6.5}{7}\selectfont] at (697.5pt,-595.5pt) {x 10\textsuperscript{4}};

\end{tikzpicture}
\end{document}
